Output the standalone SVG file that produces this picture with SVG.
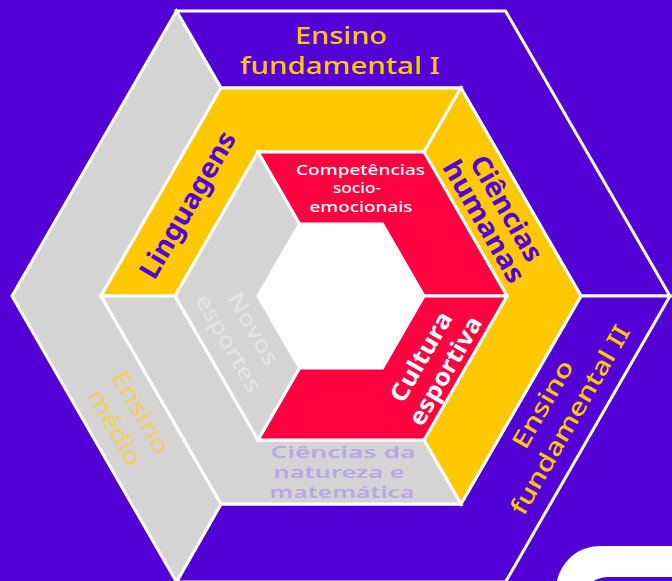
<svg xmlns="http://www.w3.org/2000/svg" width="672" height="581" viewBox="0 0 672 581">
<style>
.p{stroke:#fff;stroke-width:3;stroke-linejoin:miter}
.pu{fill:#5200D6}
.ye{fill:#FFC800}
.gr{fill:#D4D4D4}
.re{fill:#FF0040}
.t{font-family:"Noto Sans","DejaVu Sans",sans-serif;text-anchor:middle}
.b{font-weight:700}
.m{font-weight:500}
.sb{font-weight:600}
</style>
<rect width="672" height="581" fill="#5200D6"/>
<g id="ensino-fundamental-1">
<polygon class="p pu" points="176.5,11 505.5,11 670,296 581,296 461,88 221,88"/>
<text class="t m" font-size="23" fill="#FFC800" x="341" y="43.5" textLength="92" lengthAdjust="spacingAndGlyphs">Ensino</text>
<text class="t m" font-size="23" fill="#FFC800" x="340" y="73.5" textLength="200" lengthAdjust="spacingAndGlyphs">fundamental I</text>
</g>
<g id="ensino-fundamental-2">
<polygon class="p pu" points="670,296 505.5,582 176.5,582 221,504 461,504 581,296"/>
<g transform="translate(556.5,412) rotate(-60)">
<text class="t m" font-size="24" fill="#FFC800" x="0" y="-7.5" textLength="98" lengthAdjust="spacingAndGlyphs">Ensino</text>
<text class="t m" font-size="24" fill="#FFC800" x="0" y="24" textLength="214" lengthAdjust="spacingAndGlyphs">fundamental II</text>
</g>
</g>
<g id="ensino-medio">
<polygon class="p gr" points="176.5,582 12,296 176.5,11 221,88 101,296 221,504"/>
<g transform="translate(128,420) rotate(60)">
<text class="t m" font-size="24" fill="#F0CF6C" x="0" y="-7" textLength="93" lengthAdjust="spacingAndGlyphs">Ensino</text>
<text class="t m" font-size="24" fill="#F0CF6C" x="0" y="23" textLength="84" lengthAdjust="spacingAndGlyphs">médio</text>
</g>
</g>
<g id="linguagens">
<polygon class="p ye" points="461,88 221,88 101,296 175,296 258,152 424,152"/>
<g transform="translate(188,205) rotate(-60)">
<text class="t b" font-size="27" fill="#5200D6" x="0" y="9" textLength="165" lengthAdjust="spacingAndGlyphs">Linguagens</text>
</g>
</g>
<g id="ciencias-humanas">
<polygon class="p ye" points="461,88 581,296 461,504 424,440 507,296 424,152"/>
<g transform="translate(495,215) rotate(60)">
<text class="t b" font-size="27" fill="#5200D6" x="0" y="-4" textLength="118" lengthAdjust="spacingAndGlyphs">Ciências</text>
<text class="t b" font-size="27" fill="#5200D6" x="0" y="22" textLength="137" lengthAdjust="spacingAndGlyphs">humanas</text>
</g>
</g>
<g id="ciencias-natureza">
<polygon class="p gr" points="461,504 221,504 101,296 175,296 258,440 424,440"/>
<text class="t sb" font-size="16" fill="#B9A6E8" x="343" y="457.5" textLength="145" lengthAdjust="spacingAndGlyphs">Ciências da</text>
<text class="t sb" font-size="16" fill="#B9A6E8" x="339" y="477.5" textLength="131" lengthAdjust="spacingAndGlyphs">natureza e</text>
<text class="t sb" font-size="16" fill="#B9A6E8" x="342" y="497.5" textLength="145" lengthAdjust="spacingAndGlyphs">matemática</text>
</g>
<g id="competencias-socioemocionais">
<polygon class="p re" points="258,152 424,152 507,296 424,296 382.5,224 299.5,224"/>
<text class="t m" font-size="15" fill="#FFFFFF" x="360.5" y="174.5" textLength="129" lengthAdjust="spacingAndGlyphs">Competências</text>
<text class="t m" font-size="15" fill="#FFFFFF" x="357" y="193" textLength="48" lengthAdjust="spacingAndGlyphs">socio-</text>
<text class="t m" font-size="15" fill="#FFFFFF" x="361" y="212" textLength="103" lengthAdjust="spacingAndGlyphs">emocionais</text>
</g>
<g id="cultura-esportiva">
<polygon class="p re" points="507,296 424,440 258,440 299.5,368 382.5,368 424,296"/>
<g transform="translate(433.5,364) rotate(-60)">
<text class="t b" font-size="24" fill="#FFFFFF" x="0" y="-6" textLength="100" lengthAdjust="spacingAndGlyphs">Cultura</text>
<text class="t b" font-size="24" fill="#FFFFFF" x="0" y="22" textLength="122" lengthAdjust="spacingAndGlyphs">esportiva</text>
</g>
</g>
<g id="novos-esportes">
<polygon class="p gr" points="258,440 175,296 258,152 299.5,224 258,296 299.5,368"/>
<g transform="translate(241,336) rotate(60)">
<text class="t m" font-size="22" fill="#E3E3E3" x="0" y="-6.5" textLength="80" lengthAdjust="spacingAndGlyphs">Novos</text>
<text class="t m" font-size="22" fill="#E3E3E3" x="0" y="22" textLength="109" lengthAdjust="spacingAndGlyphs">esportes</text>
</g>
</g>
<g id="centro">
<polygon fill="#FFFFFF" points="424,296 382.5,368 299.5,368 258,296 299.5,224 382.5,224"/>
</g>
<g id="canto">
<rect x="556" y="546" width="220" height="120" rx="44" fill="#FFFFFF"/>
<rect x="580" y="577" width="180" height="80" rx="28" fill="#5200D6"/>
</g>
<g id="connectors"></g>
</svg>
